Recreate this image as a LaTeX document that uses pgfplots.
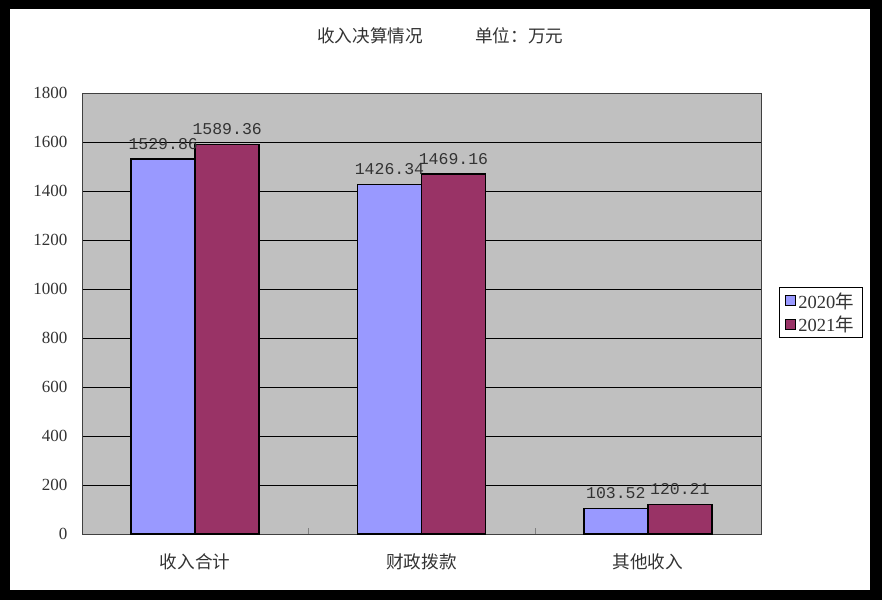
\documentclass[border=0pt]{standalone}
\usepackage{pgfplots}
\pgfplotsset{compat=1.18}
\usepackage{fontspec}
\setmainfont{Liberation Serif}
\newfontfamily\cjk{Noto Sans CJK SC}
\newfontfamily\mono{Liberation Mono}
\definecolor{bg}{HTML}{C0C0C0}
\definecolor{cA}{HTML}{9999FF}
\definecolor{cB}{HTML}{993366}
\begin{document}
\begin{tikzpicture}[x=1pt,y=1pt]
\fill[black] (0,0) rectangle (882,600);
\fill[white] (10,10) rectangle (870,591);
\node[anchor=west,inner sep=0pt,font=\cjk\fontsize{17.6}{17.6}\selectfont,text=black!80] at (317,564) {收入决算情况};
\node[anchor=west,inner sep=0pt,font=\cjk\fontsize{17.6}{17.6}\selectfont,text=black!80] at (475,564) {单位：万元};
\begin{axis}[
  at={(82pt,66pt)}, anchor=south west,
  scale only axis, width=679pt, height=441pt,
  xmin=-0.5, xmax=2.5, ymin=0, ymax=1800,
  enlargelimits=false,
  ybar=0pt, bar width=64pt,
  ytick={0,200,...,1800},
  /pgf/number format/assume math mode=true,
  /pgf/number format/1000 sep={},
  yticklabel style={font=\fontsize{17}{17}\selectfont, text=black!80, xshift=-11pt},
  xtick={0.5,1.5}, xticklabels={},
  xtick pos=bottom,
  tick align=inside, major tick length=6pt,
  extra x ticks={0,1,2},
  extra x tick labels={收入合计,财政拨款,其他收入},
  extra x tick style={major tick length=0pt, tick label style={font=\cjk\fontsize{17.6}{17.6}\selectfont, text=black!80, yshift=-16pt}},
  ytick style={draw=none},
  ymajorgrids, grid style={black, line width=0.8pt},
  axis line style={black!75, line width=0.9pt},
  axis background/.style={fill=bg},
  point meta=explicit symbolic,
  nodes near coords,
  nodes near coords style={font=\mono\fontsize{16.5}{16.5}\selectfont, text=black!80, inner sep=3pt, yshift=6pt},
  legend style={at={(1.0265,0.560)}, anchor=north west, draw=black, fill=white,
    font=\fontsize{18.5}{18.5}\selectfont, text=black!80, inner xsep=6pt, inner ysep=3pt, row sep=2pt, line width=0.8pt},
  legend cell align=left,
  legend image code/.code={\draw[#1,draw=black,line width=1pt] (0pt,-5pt) rectangle (10pt,5pt);},
]
\addplot[fill=cA, draw=black, line width=1.5pt] coordinates {(0,1529.86) [1529.86] (1,1426.34) [1426.34] (2,103.52) [103.52]};
\addlegendentry{2020{\cjk 年}}
\addplot[fill=cB, draw=black, line width=1.5pt] coordinates {(0,1589.36) [1589.36] (1,1469.16) [1469.16] (2,120.21) [120.21]};
\addlegendentry{2021{\cjk 年}}
\end{axis}
\end{tikzpicture}
\end{document}
